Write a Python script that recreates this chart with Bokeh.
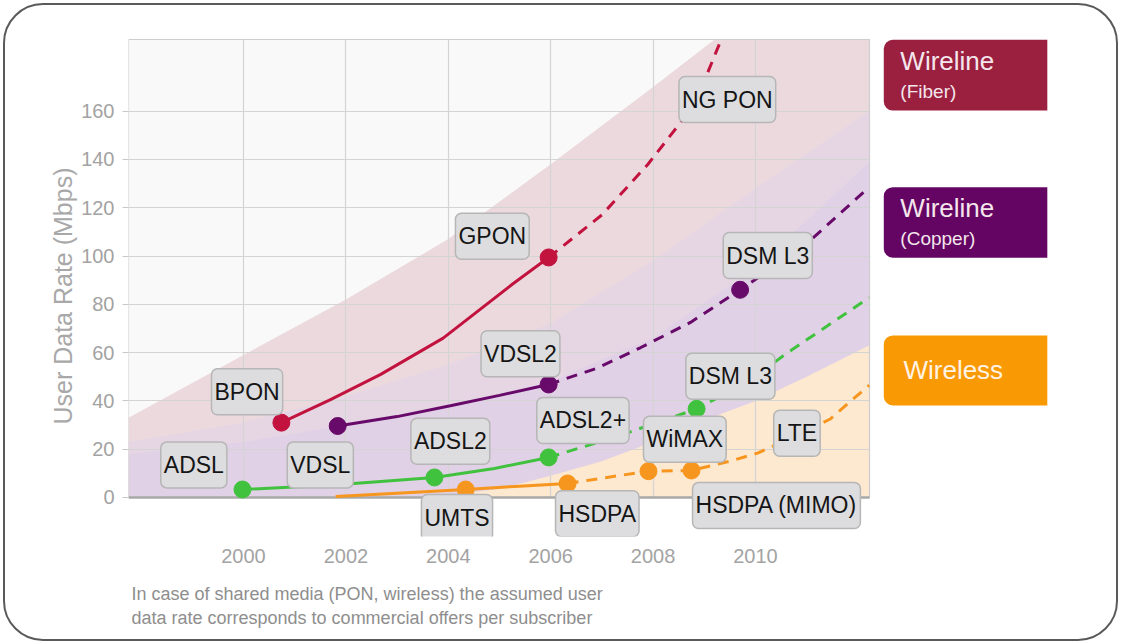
from bokeh.plotting import figure
from bokeh.models import Range1d, FixedTicker, Label, BoxAnnotation, Title, InlineStyleSheet
from bokeh.embed import file_html
from bokeh.resources import INLINE

# ---------------- data ----------------
year_ticks = [2000, 2002, 2004, 2006, 2008, 2010]
rate_ticks = [0, 20, 40, 60, 80, 100, 120, 140, 160]

# Wireline (Fiber)
fiber_solid_x = [2000.74, 2001.7, 2002.68, 2003.9, 2005.27, 2005.96]
fiber_solid_y = [31.0, 40.5, 51.0, 66.0, 88.6, 99.4]
fiber_dash_x = [2005.96, 2007.0, 2007.9, 2008.6, 2009.06, 2009.33]
fiber_dash_y = [99.4, 117.0, 138.0, 157.0, 175.6, 189.6]
fiber_pts_x = [2000.74, 2005.96]
fiber_pts_y = [31.0, 99.4]

# Wireline (Copper)
copper_solid_x = [2001.84, 2003.0, 2004.04, 2005.0, 2005.96]
copper_solid_y = [29.6, 33.5, 38.0, 42.3, 46.8]
copper_dash_x = [2005.96, 2006.9, 2007.75, 2008.73, 2009.7, 2010.4, 2011.13, 2012.22]
copper_dash_y = [46.8, 53.5, 62.0, 72.5, 86.0, 96.0, 107.6, 128.5]
copper_pts_x = [2001.84, 2005.96, 2009.7]
copper_pts_y = [29.6, 46.8, 86.0]

# DSL (green)
dsl_solid_x = [1999.98, 2001.76, 2003.73, 2004.9, 2005.96]
dsl_solid_y = [3.3, 5.2, 8.3, 12.0, 16.6]
dsl_dash_x = [2005.96, 2007.23, 2008.85, 2009.5, 2010.16, 2010.6, 2011.4, 2012.22]
dsl_dash_y = [16.6, 24.8, 36.7, 44.0, 52.6, 59.6, 71.0, 82.8]
dsl_pts_x = [1999.98, 2003.73, 2005.96, 2008.85]
dsl_pts_y = [3.3, 8.3, 16.6, 36.7]

# Wireless (orange)
wl_solid_x = [2001.8, 2003.0, 2004.34, 2005.3, 2006.33]
wl_solid_y = [0.4, 1.8, 3.3, 4.6, 5.8]
wl_dash_x = [2006.33, 2007.1, 2007.91, 2008.75, 2009.5, 2010.04, 2010.7, 2011.46, 2012.22]
wl_dash_y = [5.8, 8.3, 10.9, 11.2, 15.0, 18.4, 24.5, 32.5, 46.5]
wl_pts_x = [2004.34, 2006.33, 2007.91, 2008.75]
wl_pts_y = [3.3, 5.8, 10.9, 11.2]

# shaded technology bands (upper edges)
band_fiber_x = [1997.754, 2000, 2002, 2004, 2006, 2008, 2009.2, 2012.227]
band_fiber_y = [33, 59, 82, 107, 138, 170, 189.65, 189.65]
band_copper_outer_x = [1997.754, 2000, 2002, 2004, 2006, 2008, 2010, 2012.227]
band_copper_outer_y = [23, 31, 42, 55, 72, 98, 128, 160]
band_copper_inner_x = [1997.754, 2000, 2002, 2004, 2006, 2008, 2010, 2012.227]
band_copper_inner_y = [18, 23, 30, 38, 48, 66, 95, 139]
band_wireless_x = [2003.6, 2005, 2006, 2007, 2008, 2009, 2010, 2011, 2012.227]
band_wireless_y = [0, 3.5, 9, 15, 23, 32, 40, 50, 63]

# technology labels
tech_names = ["BPON", "ADSL", "VDSL", "ADSL2", "UMTS", "GPON", "VDSL2", "ADSL2+",
              "HSDPA", "WiMAX", "LTE", "HSDPA (MIMO)", "DSM L3", "DSM L3", "NG PON"]
tech_label_x = [2000.07, 1999.03, 2001.50, 2004.04, 2004.17, 2004.86, 2005.41, 2006.63,
                2006.91, 2008.62, 2010.81, 2010.41, 2009.51, 2010.24, 2009.45]
tech_label_y = [43.8, 13.5, 13.5, 23.3, -8.3, 108.2, 59.5, 31.9,
                -6.7, 24.1, 26.6, -3.3, 50.2, 100.2, 164.8]

# plot area (data extent)
X0, X1 = 1997.754, 2012.227
Y0, Y1 = 0.0, 189.65

FONT = "Liberation Sans"
C_FIBER = "#c2123e"
C_COPPER = "#680a6a"
C_DSL = "#41c23f"
C_WL = "#f7961e"

p = figure(width=1121, height=644, output_backend="svg", toolbar_location=None,
           x_range=Range1d(X0, 2017.149), y_range=Range1d(-16.15, 205.8),
           min_border_left=128, min_border_right=0, min_border_top=0,
           min_border_bottom=108)
p.background_fill_color = "white"
p.border_fill_color = "white"
p.outline_line_color = None
p.stylesheets = [InlineStyleSheet(css="""
:host { position: relative; }
:host::after {
  content: ""; position: absolute; left: 3px; top: 3px; right: 3px; bottom: 3px;
  border: 2.5px solid #5a5a5a; border-radius: 40px; pointer-events: none; z-index: 100;
}
""")]

# plot-area background (drawn first)
p.quad(left=[X0], right=[X1], bottom=[Y0], top=[Y1], fill_color="#f9f9f9",
       line_color=None, level="image")

# bands (below the grid)
p.varea(x=band_fiber_x, y1=0, y2=band_fiber_y, fill_color="#ecd9de", level="image")
p.varea(x=band_copper_outer_x, y1=0, y2=band_copper_outer_y, fill_color="#e6d6e4", level="image")
p.varea(x=band_copper_inner_x, y1=0, y2=band_copper_inner_y, fill_color="#e1d1e6", level="image")
p.varea(x=band_wireless_x, y1=0, y2=band_wireless_y, fill_color="#fde8d0", level="image")

# plot-area border
p.quad(left=[X0], right=[X1], bottom=[Y0], top=[Y1], fill_color=None,
       line_color="#cdcdcd", line_width=1.2)

# grid & axes
p.xaxis.ticker = FixedTicker(ticks=year_ticks)
p.yaxis.ticker = FixedTicker(ticks=rate_ticks)
p.xgrid.grid_line_color = "#d4d4d4"
p.ygrid.grid_line_color = "#d4d4d4"
p.xgrid.grid_line_width = 1.2
p.ygrid.grid_line_width = 1.2
p.xgrid.cross_bounds = (Y0, Y1)
p.ygrid.cross_bounds = (X0, X1)

for ax in (p.xaxis[0], p.yaxis[0]):
    ax.axis_line_color = None
    ax.minor_tick_line_color = None
    ax.major_label_text_font = FONT
    ax.major_label_text_font_size = "20px"
    ax.major_label_text_color = "#a3a3a3"
p.xaxis.major_tick_line_color = None
p.xaxis.major_label_standoff = 6
p.yaxis.major_tick_line_color = "#c8c8c8"
p.yaxis.major_tick_out = 6
p.yaxis.major_tick_in = 0
p.yaxis.major_label_standoff = 8

# y = 0 base line
p.line([X0, X1], [0, 0], line_color="#a9a9a9", line_width=2.5)

# lines
def series(sx, sy, dx, dy, px, py, color):
    p.line(sx, sy, line_color=color, line_width=3)
    p.line(dx, dy, line_color=color, line_width=3, line_dash="11 8")
    p.scatter(px, py, size=17, fill_color=color, line_color=color)

series(wl_solid_x, wl_solid_y, wl_dash_x, wl_dash_y, wl_pts_x, wl_pts_y, C_WL)
series(dsl_solid_x, dsl_solid_y, dsl_dash_x, dsl_dash_y, dsl_pts_x, dsl_pts_y, C_DSL)
series(copper_solid_x, copper_solid_y, copper_dash_x, copper_dash_y, copper_pts_x, copper_pts_y, C_COPPER)
series(fiber_solid_x, fiber_solid_y, fiber_dash_x, fiber_dash_y, fiber_pts_x, fiber_pts_y, C_FIBER)

# technology labels
for name, lx, ly in zip(tech_names, tech_label_x, tech_label_y):
    p.add_layout(Label(x=lx, y=ly, text=name, text_align="center", text_baseline="middle",
                       text_font=FONT, text_font_size="23px", text_color="#151515",
                       background_fill_color="#dddddf", border_line_color="#b6b6b6",
                       border_line_width=1.5, border_radius=6, padding=(3, 10)))

# y axis title
p.add_layout(Title(text="User Data Rate (Mbps)", align="right", offset=167,
                   text_font=FONT, text_font_size="25px", text_font_style="normal",
                   text_color="#a8a8a8", standoff=4), "left")

# category boxes on the right
cat_boxes = [("Wireline", "(Fiber)", 189.5, 160.2, "#9b1f3f"),
             ("Wireline", "(Copper)", 128.5, 99.3, "#650563"),
             ("Wireless", None, 67.1, 38.1, "#f99a05")]
for big, small, top, bottom, col in cat_boxes:
    p.add_layout(BoxAnnotation(left=2012.506, right=2015.70, top=top, bottom=bottom,
                               fill_color=col, fill_alpha=1.0, line_color=None,
                               border_radius=(9, 0, 0, 9)))
    if small is None:
        p.add_layout(Label(x=2012.89, y=(top + bottom) / 2, text=big, text_align="left",
                           text_baseline="middle", text_font=FONT, text_font_size="26px",
                           text_color="#fff3e6"))
    else:
        p.add_layout(Label(x=2012.83, y=top - 8.8, text=big, text_align="left",
                           text_baseline="middle", text_font=FONT, text_font_size="26px",
                           text_color="#f4e6ec"))
        p.add_layout(Label(x=2012.83, y=top - 21.3, text=small, text_align="left",
                           text_baseline="middle", text_font=FONT, text_font_size="19px",
                           text_color="#f4e6ec"))

# footnote
p.add_layout(Title(text="In case of shared media (PON, wireless) the assumed user\n"
                        "data rate corresponds to commercial offers per subscriber",
                   align="left", offset=3, text_font=FONT, text_font_size="18px",
                   text_line_height=1.22, text_font_style="normal",
                   text_color="#8e8e8e", standoff=33), "below")

open("out.html", "w").write(file_html(p, INLINE))
